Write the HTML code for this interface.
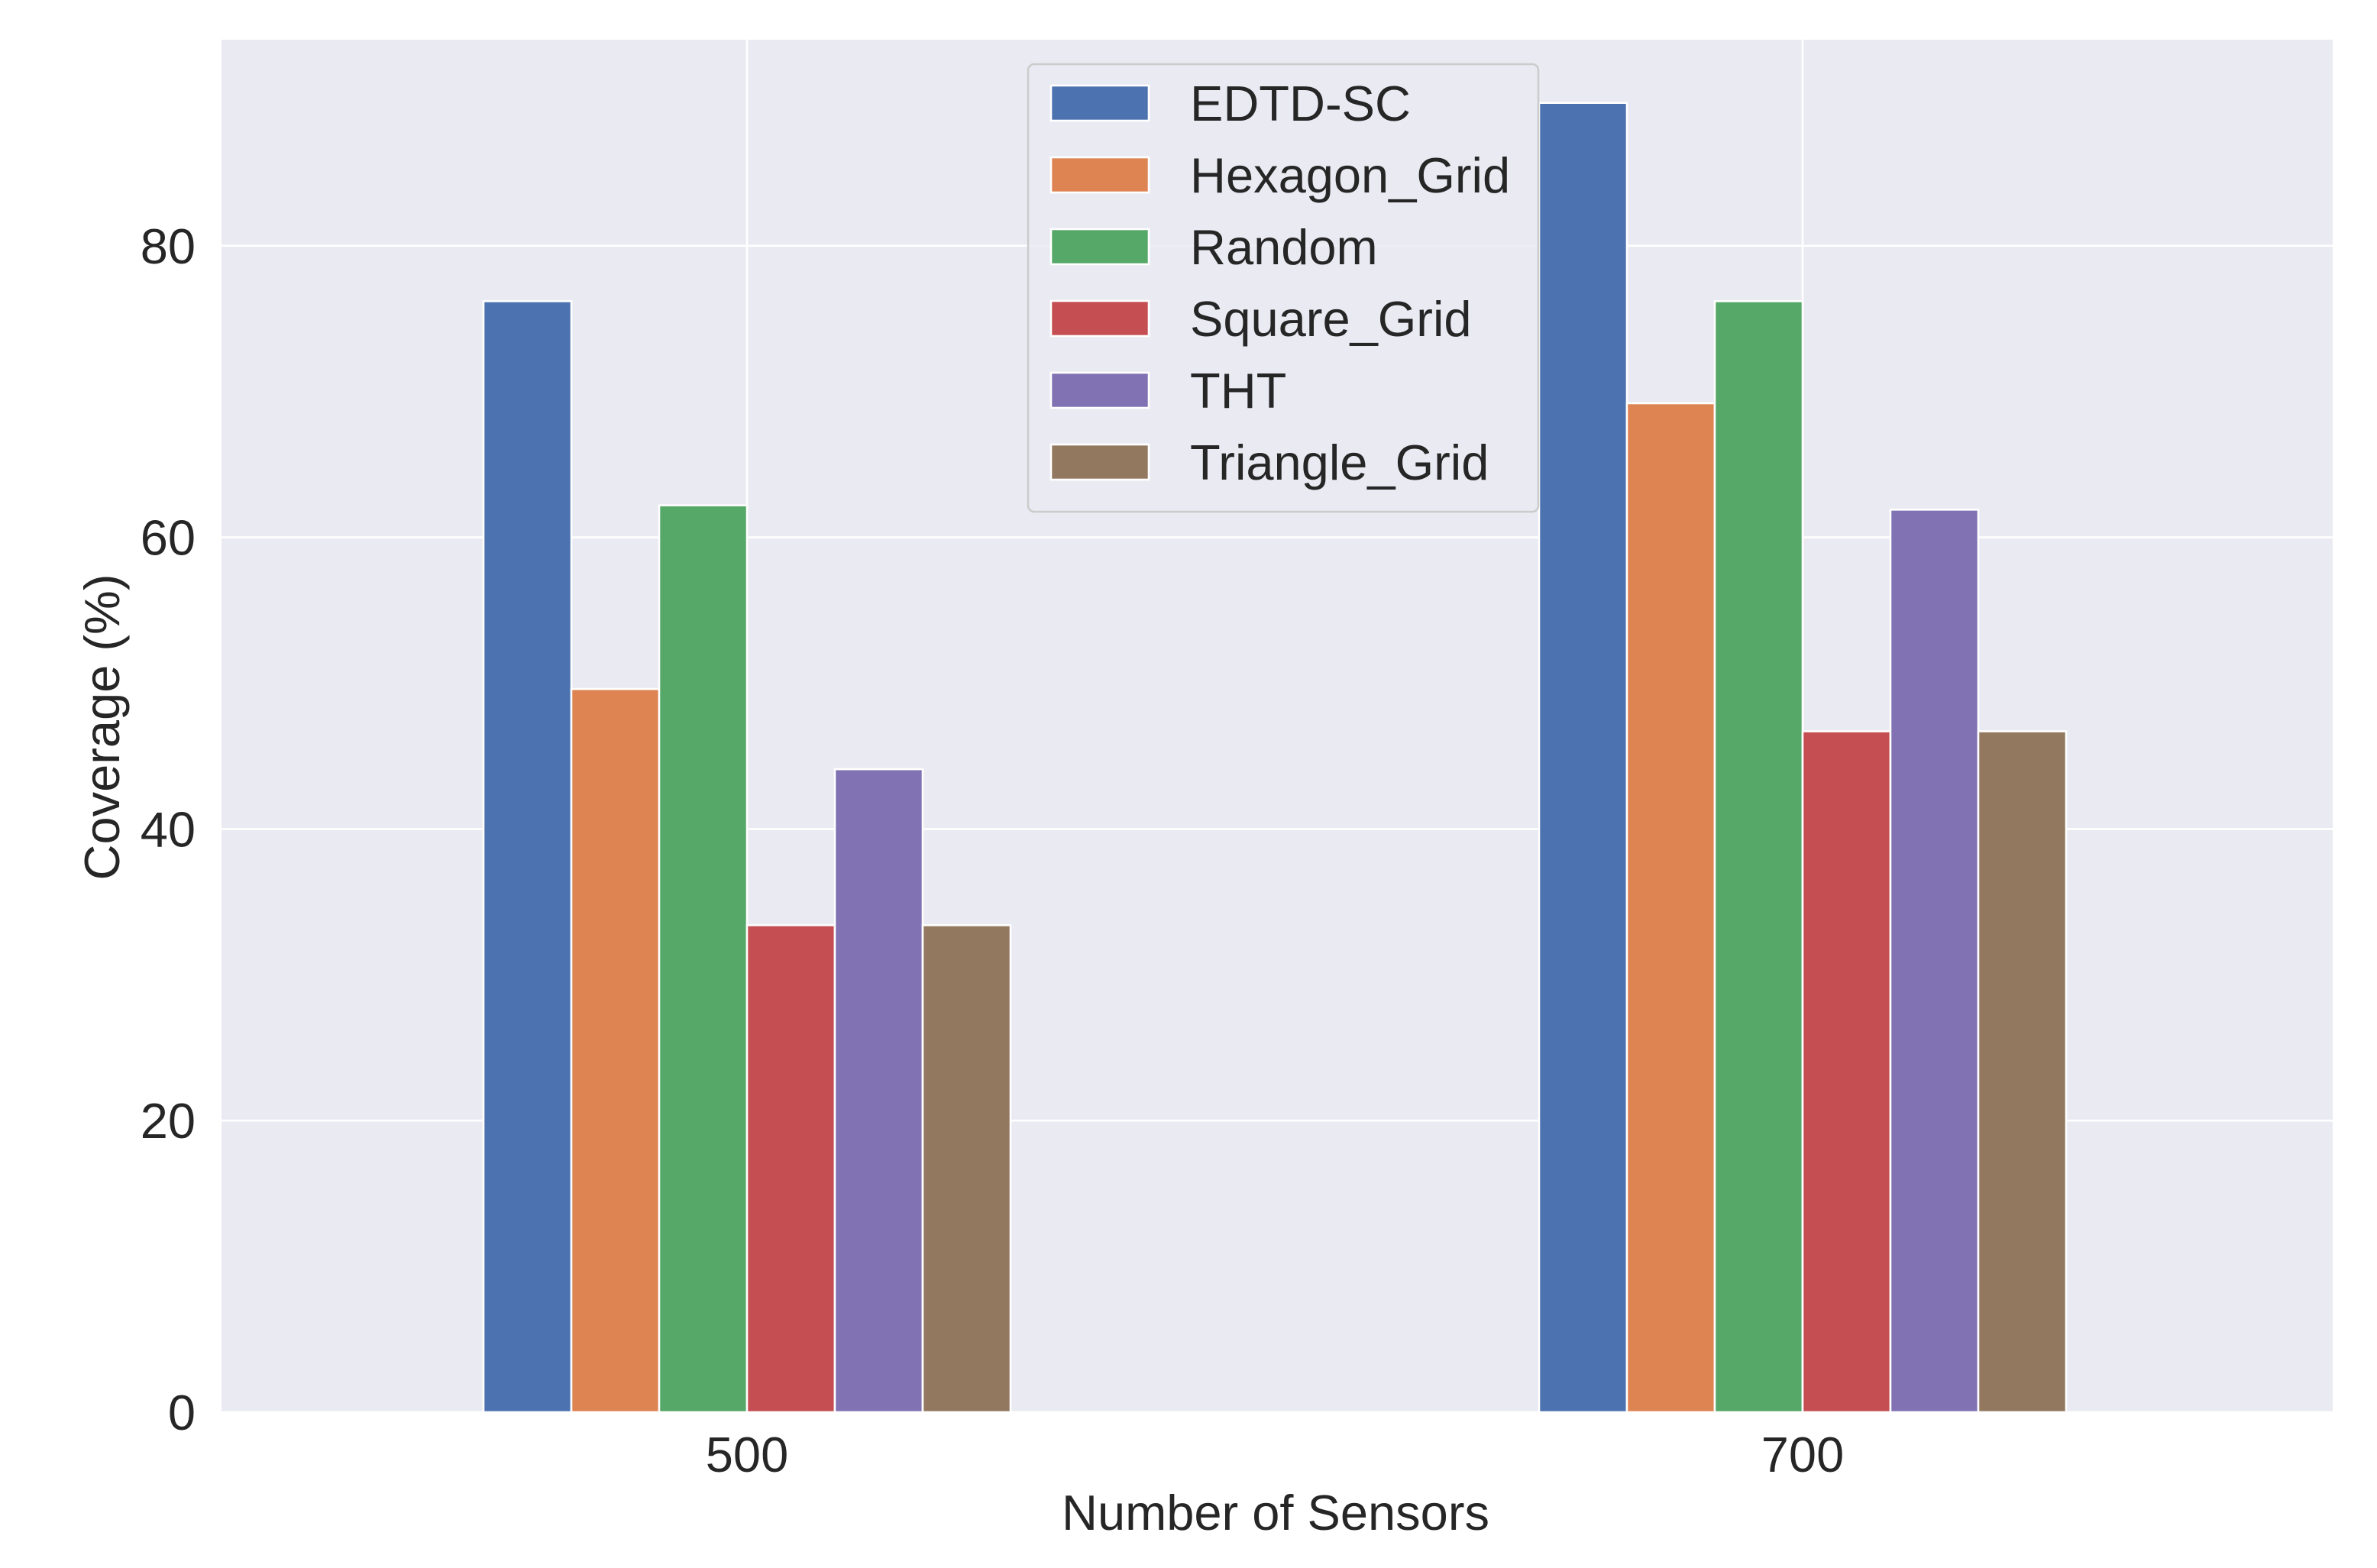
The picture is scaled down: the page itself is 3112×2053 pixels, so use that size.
<!DOCTYPE html>
<html><head><meta charset="utf-8"><style>
html,body{margin:0;padding:0;background:#fff}
svg text{font-family:"Liberation Sans",Arial,sans-serif;fill:#262626}
</style></head><body>
<svg id="chart" width="3112" height="2048" viewBox="0 0 3112 2048" xmlns="http://www.w3.org/2000/svg">
<rect x="290" y="52" width="2764" height="1797" fill="#eaeaf2"/>
<g id="grid"></g>
<g id="bars"></g>
<g id="ticks"></g>
<text x="1670" y="2003" font-size="65" text-anchor="middle">Number of Sensors</text>
<text transform="translate(156,952) rotate(-90)" font-size="65" text-anchor="middle">Coverage (%)</text>
<g id="legend"></g>
</svg>
<script>
const categories = ["500", "700"];
const seriesNames = ["EDTD-SC", "Hexagon_Grid", "Random", "Square_Grid", "THT", "Triangle_Grid"];
const edtdSc = [76.2, 89.8];
const hexagonGrid = [49.6, 69.2];
const randomVals = [62.2, 76.2];
const squareGrid = [33.4, 46.7];
const tht = [44.1, 61.9];
const triangleGrid = [33.4, 46.7];
const yTicks = [0, 20, 40, 60, 80];

const series = [edtdSc, hexagonGrid, randomVals, squareGrid, tht, triangleGrid];
const colors = ["#4c72b0","#dd8452","#55a868","#c44e52","#8172b3","#937860"];
const NS = "http://www.w3.org/2000/svg";
const L = 290, R = 3054, T = 52, B = 1849;
const y = v => B - v * 19.09;
const catX = i => 978 + i * 1382;
const barW = 115;

function mk(tag, attrs, parent) {
  const e = document.createElementNS(NS, tag);
  for (const k in attrs) e.setAttribute(k, attrs[k]);
  parent.appendChild(e);
  return e;
}
const grid = document.getElementById('grid');
const ticks = document.getElementById('ticks');
yTicks.forEach(t => {
  const ln = mk('line', {x1: L, x2: R, y1: y(t), y2: y(t), stroke: '#fff', 'stroke-width': 2.6}, grid);
  
  
  const tx = mk('text', {x: 256, y: y(t) + 23, 'font-size': 65, 'text-anchor': 'end'}, ticks);
  tx.textContent = t;
  
  
});
categories.forEach((c, i) => {
  const ln = mk('line', {x1: catX(i), x2: catX(i), y1: T, y2: B, stroke: '#fff', 'stroke-width': 2.6}, grid);
  
  
  const tx = mk('text', {x: catX(i), y: 1927, 'font-size': 65, 'text-anchor': 'middle'}, ticks);
  tx.textContent = c;
  
  
});
const bars = document.getElementById('bars');
series.forEach((s, j) => {
  s.forEach((v, i) => {
    const x = catX(i) + (j - 3) * barW;
    const r = mk('rect', {x: x, y: y(v), width: barW, height: B - y(v), fill: colors[j], stroke: '#fff', 'stroke-width': 2.6}, bars);
    
    
  });
});
const leg = document.getElementById('legend');
const box = mk('rect', {x: 1346, y: 84, width: 668, height: 586, rx: 8, fill: '#eaeaf2', 'fill-opacity': 0.8, stroke: '#cccccc', 'stroke-width': 2.6}, leg);


seriesNames.forEach((n, j) => {
  const cy = 135 + j * 94;
  const p = mk('rect', {x: 1376, y: cy - 23, width: 128, height: 46, fill: colors[j], stroke: '#fff', 'stroke-width': 2.6}, leg);
  
  
  const t = mk('text', {x: 1558, y: cy + 23, 'font-size': 65}, leg);
  t.textContent = n;
  
  
});
</script>
</body></html>
